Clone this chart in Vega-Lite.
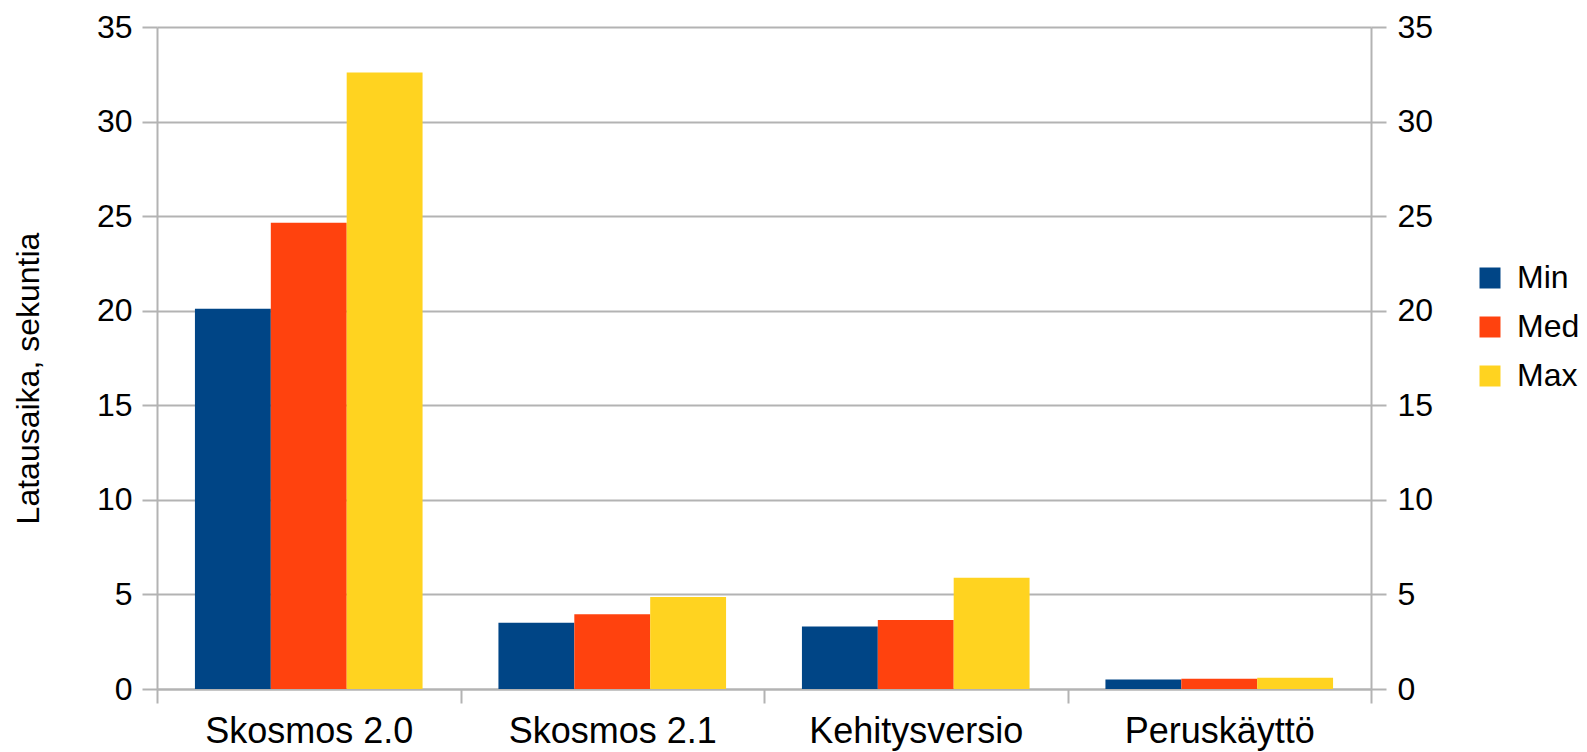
{
  "$schema": "https://vega.github.io/schema/vega-lite/v6.json",
  "autosize": {"type": "none"},
  "padding": {"left": 157, "top": 27, "right": 216, "bottom": 63},
  "width": 1214,
  "height": 662,
  "background": "white",
  "config": {
    "font": "Liberation Sans",
    "view": {"stroke": null},
    "axis": {"labelColor": "#000000", "titleColor": "#000000", "labelFont": "Liberation Sans", "titleFont": "Liberation Sans", "titleFontWeight": "normal"}
  },
  "data": {
    "values": [
      {"category": "Skosmos 2.0", "stat": "Min", "value": 20.1},
      {"category": "Skosmos 2.0", "stat": "Med", "value": 24.65},
      {"category": "Skosmos 2.0", "stat": "Max", "value": 32.6},
      {"category": "Skosmos 2.1", "stat": "Min", "value": 3.5},
      {"category": "Skosmos 2.1", "stat": "Med", "value": 3.95},
      {"category": "Skosmos 2.1", "stat": "Max", "value": 4.86},
      {"category": "Kehitysversio", "stat": "Min", "value": 3.3},
      {"category": "Kehitysversio", "stat": "Med", "value": 3.65},
      {"category": "Kehitysversio", "stat": "Max", "value": 5.88},
      {"category": "Peruskäyttö", "stat": "Min", "value": 0.5},
      {"category": "Peruskäyttö", "stat": "Med", "value": 0.54},
      {"category": "Peruskäyttö", "stat": "Max", "value": 0.6}
    ]
  },
  "layer": [
    {
      "mark": {"type": "bar"},
      "encoding": {
        "x": {
          "field": "category", "type": "nominal",
          "sort": ["Skosmos 2.0", "Skosmos 2.1", "Kehitysversio", "Peruskäyttö"],
          "scale": {"paddingInner": 0, "paddingOuter": 0},
          "axis": {
            "title": null, "labelAngle": 0, "labelFontSize": 36, "labelPadding": 11, "labelLimit": 0,
            "tickBand": "extent", "tickSize": 14, "tickWidth": 2, "tickColor": "#b3b3b3",
            "domain": true, "domainColor": "#b3b3b3", "domainWidth": 2, "grid": false
          }
        },
        "xOffset": {
          "field": "stat", "type": "nominal",
          "sort": ["Min", "Med", "Max"],
          "scale": {"paddingInner": 0, "paddingOuter": 0.5}
        },
        "y": {
          "field": "value", "type": "quantitative",
          "scale": {"domain": [0, 35], "nice": false},
          "axis": {
            "title": "Latausaika, sekuntia", "titleFontSize": 32,
            "titleAngle": -90, "titleAlign": "center", "titleBaseline": "alphabetic",
            "titleX": -119, "titleY": 351,
            "values": [0, 5, 10, 15, 20, 25, 30, 35],
            "labelFontSize": 32, "labelPadding": 10,
            "tickSize": 15, "tickWidth": 2, "tickColor": "#b3b3b3",
            "domain": true, "domainColor": "#b3b3b3", "domainWidth": 2,
            "grid": true, "gridColor": "#b3b3b3", "gridWidth": 2
          }
        },
        "color": {
          "field": "stat", "type": "nominal",
          "sort": ["Min", "Med", "Max"],
          "scale": {"domain": ["Min", "Med", "Max"], "range": ["#004586", "#ff420e", "#ffd320"]},
          "legend": {
            "title": null, "orient": "none", "legendX": 1317, "legendY": 235,
            "symbolType": "square", "symbolSize": 441, "symbolStrokeWidth": 0,
            "labelFontSize": 32, "labelFont": "Liberation Sans", "labelColor": "#000000",
            "labelOffset": 11, "rowPadding": 17, "padding": 0
          }
        }
      }
    },
    {
      "mark": {"type": "rule", "opacity": 0},
      "encoding": {
        "y": {
          "field": "value", "type": "quantitative",
          "scale": {"domain": [0, 35], "nice": false},
          "axis": {
            "orient": "right", "title": null,
            "values": [0, 5, 10, 15, 20, 25, 30, 35],
            "labelFontSize": 32, "labelPadding": 11,
            "tickSize": 15, "tickWidth": 2, "tickColor": "#b3b3b3",
            "domain": true, "domainColor": "#b3b3b3", "domainWidth": 2,
            "grid": false
          }
        }
      }
    }
  ],
  "resolve": {"scale": {"y": "independent"}, "axis": {"y": "independent"}}
}
